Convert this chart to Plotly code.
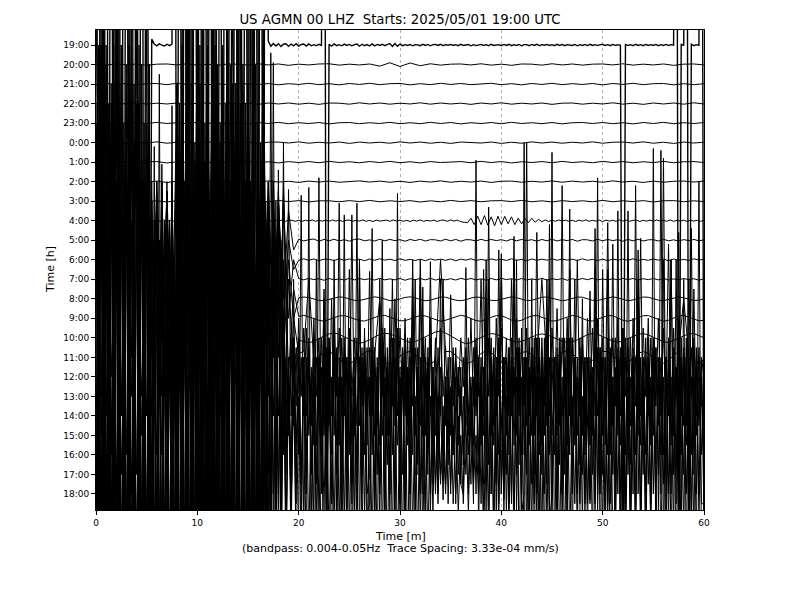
import numpy as np
import plotly.graph_objects as go

# ---------------- data (amplitudes in units of trace spacing, positive = up) ----------------
hour_labels = ["19:00", "20:00", "21:00", "22:00", "23:00", "0:00", "1:00", "2:00",
               "3:00", "4:00", "5:00", "6:00", "7:00", "8:00", "9:00", "10:00",
               "11:00", "12:00", "13:00", "14:00", "15:00", "16:00", "17:00", "18:00"]
x_ticks = [0, 10, 20, 30, 40, 50, 60]

h19 = [30, -35, 38, -32, 40, -30, 36, -38, 33, -31, 42, -36, 35, -30, 39, -34, 31, -37, 40, -33, 36, -30,
       0.3, 0.05, -0.04, 0.06, 0.0, -0.05, 0.04, -0.03, 0.05,
       34, -31, 38, -36, 30, -40, 35, -33, 41, -30, 37, -35, 32, -38, 36, -31, 39, -34, 30, -37, 42, -32,
       35, -36, 38, -30, 33, -39, 36, -31, 40, -35, 31, -33, 37, -30, 34,
       0.2, -0.06, 0.08, -0.05, 0.07, -0.08, 0.04, 0.06, -0.07, 0.05, -0.04, 0.07, -0.06, 0.03, 0.05, -0.05,
       0.06, -0.04, 0.02, -0.03, 0.04, -0.02,
       32, -30,
       0.04, -0.05, 0.06, -0.03, 0.02, -0.04, 0.05, -0.02, 0.03, -0.04,
       0.02, 0.05, -0.06, 0.04, -0.03, 0.02, -0.05, 0.06, -0.04, 0.03,
       -0.02, 0.04, -0.03, 0.02, 0.08, -0.07, 0.08, -0.06, 0.05, -0.03,
       0.02, -0.02, 0.03, -0.04, 0.02, 0.01, -0.03, 0.04, -0.02, 0.03,
       -0.04, 0.02, 0.03, -0.02, 0.04, -0.03, 0.02, -0.01, 0.03, -0.02,
       0.02, -0.03, 0.04, -0.02, 0.01, 0.03, -0.04, 0.02, -0.03, 0.02,
       0.03, -0.02, 0.02, -0.03, 0.04, -0.02, 0.01, 0.02, -0.03, 0.03,
       -0.02, 0.04, -0.03, 0.02, -0.02, 0.03, -0.04, 0.02, 0.02, -0.03,
       0.03, -0.02, 0.04, -0.03, 0.02, -0.01, 0.03, -0.02, 0.02, -0.03,
       0.04, -0.02, 0.03, -0.03, 0.02, 0.01, -0.02, 0.03, -0.04, 0.02,
       -0.02, 0.03, -0.03, 0.04, -0.02, 0.02, -0.03, 0.02, 0.03, -0.02,
       0.02, -0.03, 0.03, -0.02, 0.02, -0.01,
       -30,
       0.03, -0.02, 0.02, -0.03, 0.04, -0.02, 0.02, -0.03, 0.03, -0.02,
       0.02, -0.02, 0.03, -0.03, 0.02, -0.02, 0.03, -0.02, 0.02, -0.01,
       30, -30, 0.05, -0.03, 30, -30, 0.04, -0.03, 0.02, -0.02, 30, -30]

h20 = [0.02, -0.03, 0.04, -0.02, 0.03, -0.04, 0.02, 0.03, -0.02, 0.04,
       -0.03, 0.02, -0.04, 0.03, 0.02, -0.03, 0.04, -0.02, 0.03, -0.04,
       0.02, -0.02, 0.03, 0.04, -0.03, 0.02, -0.02, 0.03, -0.08, 0.09,
       -0.1, 0.08, -0.06, 0.04, -0.03, 0.02, 0.03, -0.02, 0.04, -0.03,
       0.02, -0.04, 0.03, 0.02, -0.03, 0.04, -0.02, 0.03, -0.03, 0.02,
       0.03, -0.02, 0.04, -0.03, 0.02, -0.02, 0.03, -0.04, 0.02, 0.03, -0.02]

h21 = [-0.03, 0.04, -0.02, 0.03, -0.04, 0.02, 0.03, -0.03, 0.04, -0.02,
       0.03, -0.04, 0.02, -0.03, 0.04, 0.02, -0.03, 0.03, -0.04, 0.02,
       -0.02, 0.04, -0.03, 0.02, -0.04, 0.03, -0.02, 0.04, -0.03, 0.02,
       0.03, -0.04, 0.02, -0.03, 0.04, -0.02, 0.03, -0.03, 0.02, 0.04,
       -0.03, 0.02, -0.04, 0.03, -0.02, 0.04, -0.03, 0.02, -0.02, 0.03,
       -0.04, 0.03, -0.02, 0.04, -0.03, 0.02, 0.03, -0.04, 0.02, -0.03, 0.02]

h22 = [0.02, -0.04, 0.03, -0.02, 0.04, -0.03, 0.02, -0.02, 0.03, -0.04,
       0.02, 0.03, -0.03, 0.04, -0.02, 0.02, -0.04, 0.03, -0.02, 0.03,
       -0.03, 0.02, -0.04, 0.03, 0.02, -0.03, 0.04, -0.02, 0.03, -0.03,
       0.02, -0.02, 0.04, -0.03, 0.03, -0.02, 0.02, -0.04, 0.03, -0.02,
       0.04, -0.03, 0.02, -0.02, 0.03, -0.04, 0.02, 0.03, -0.03, 0.02,
       -0.02, 0.04, -0.03, 0.02, -0.04, 0.03, -0.02, 0.03, -0.03, 0.04, -0.02]

h23 = [-0.02, 0.03, -0.04, 0.02, 0.03, -0.03, 0.04, -0.02, 0.02, -0.03,
       0.04, -0.02, 0.03, -0.03, 0.02, -0.04, 0.03, -0.02, 0.04, -0.03,
       0.02, -0.02, 0.03, -0.04, 0.02, 0.03, -0.03, 0.02, -0.02, 0.04,
       -0.03, 0.02, -0.03, 0.04, -0.02, 0.03, -0.04, 0.02, -0.02, 0.03,
       -0.03, 0.04, -0.02, 0.02, -0.03, 0.03, -0.04, 0.02, 0.03, -0.02,
       0.03, -0.03, 0.02, -0.04, 0.03, -0.02, 0.04, -0.03, 0.02, -0.02, 0.03]

h00 = [0.03, -0.02, 0.02, -0.04, 0.03, -0.02, 0.04, -0.03, 0.02, 0.03,
       -0.03, 0.04, -0.02, 0.02, -0.03, 0.03, -0.04, 0.02, 0.03, -0.02,
       0.04, -0.03, 0.02, -0.02, 0.03, -0.04, 0.03, -0.02, 0.02, -0.03,
       0.04, -0.02, 0.03, -0.03, 0.02, -0.04, 0.03, 0.02, -0.02, 0.03,
       -0.04, 0.02, -0.03, 0.04, -0.02, 0.03, -0.03, 0.02, -0.02, 0.04,
       -0.03, 0.02, 0.03, -0.02, 0.04, -0.03, 0.02, -0.04, 0.03, -0.02, 0.02]

h01 = [-0.03, 0.02, -0.02, 0.04, -0.03, 0.02, 0.03, -0.04, 0.02, -0.02,
       0.03, -0.03, 0.04, -0.02, 0.02, 0.03, -0.03, 0.02, -0.04, 0.03,
       -0.02, 0.03, -0.03, 0.04, -0.02, 0.02, -0.03, 0.03, -0.02, 0.04,
       -0.03, 0.02, -0.04, 0.03, -0.02, 0.02, 0.03, -0.03, 0.04, -0.02,
       0.03, -0.04, 0.02, -0.02, 0.03, -0.03, 0.04, -0.02, 0.02, -0.03,
       0.04, -0.02, 0.03, -0.03, 0.02, -0.02, 0.04, -0.03, 0.02, 0.03, -0.02]

h02 = [0.02, -0.03, 0.04, -0.02, 0.02, -0.03, 0.03, -0.04, 0.02, 0.03,
       -0.02, 0.04, -0.03, 0.02, -0.02, 0.03, -0.03, 0.04, -0.02, 0.02,
       -0.04, 0.03, -0.02, 0.03, -0.03, 0.02, 0.04, -0.02, 0.03, -0.03,
       0.02, -0.04, 0.03, -0.02, 0.04, -0.03, 0.02, -0.02, 0.03, -0.04,
       0.02, 0.03, -0.03, 0.02, -0.02, 0.04, -0.03, 0.03, -0.02, 0.02,
       -0.03, 0.04, -0.02, 0.02, -0.04, 0.03, -0.03, 0.02, 0.03, -0.02, 0.03]

h03 = [-0.02, 0.04, -0.03, 0.02, 0.03, -0.02, 0.02, -0.04, 0.03, -0.03,
       0.02, -0.02, 0.04, -0.03, 0.03, -0.02, 0.02, -0.03, 0.04, -0.02,
       0.03, -0.04, 0.02, 0.02, -0.03, 0.03, -0.02, 0.04, -0.03, 0.02,
       -0.02, 0.03, -0.04, 0.02, -0.03, 0.04, -0.02, 0.03, -0.03, 0.02,
       0.03, -0.02, 0.04, -0.03, 0.02, -0.04, 0.03, -0.02, 0.02, -0.03,
       0.04, -0.03, 0.02, -0.02, 0.03, -0.04, 0.02, 0.03, -0.03, 0.02, -0.02]

h04 = [0.03, -0.02, 0.04, -0.03, 0.02, -0.04, 0.03, 0.02, -0.03, 0.04,
       -0.02, 0.03, -0.04, 0.02, 0.03, -0.03, 0.04, -0.02, 0.02, -0.03,
       0.04, -0.03, 0.02, -0.02, 0.03, -0.04, 0.02, 0.03, -0.03, 0.02,
       -0.04, 0.03, -0.02, 0.04, -0.03, 0.02, -0.02, 0.03, -0.04, 0.02,
       0.03, -0.03, 0.04, -0.02, 0.02, -0.03, 0.03, -0.04, 0.02, 0.03,
       -0.02, 0.04, -0.03, 0.02, -0.02, 0.03, -0.04, 0.03, 0.02, -0.03,
       0.02, -0.04, 0.03, -0.02, 0.04, -0.03, 0.02, -0.02, 0.03, -0.03,
       0.04, -0.02, 0.03, -0.04, 0.02, 0.03, -0.03, 0.02, -0.02, 0.04,
       -0.03, 0.02, -0.04, 0.03, -0.02, 0.02, 0.03, -0.03, 0.04, -0.02,
       0.03, -0.03, 0.02, -0.04, 0.03, -0.02, 0.04, -0.03, 0.02, -0.02,
       0.03, -0.04, 0.02, 0.03, -0.03, 0.04, -0.02, 0.03, -0.05, -0.08,
       -0.1, 0.13, -0.2, 0.23, -0.2, 0.26, -0.23, 0.2, -0.26, 0.23,
       -0.2, 0.23, -0.16, 0.2, -0.2, 0.13, -0.16, 0.13, -0.1, 0.13,
       -0.08, 0.07, -0.05, 0.04, -0.04, 0.03, -0.03, 0.04, -0.02, 0.03,
       -0.03, 0.02, -0.04, 0.03, -0.02, 0.04, -0.03, 0.02, -0.02, 0.03,
       -0.04, 0.03, -0.02, 0.02, -0.03, 0.04, -0.02, 0.03, -0.03, 0.02,
       0.03, -0.04, 0.02, -0.02, 0.03, -0.03, 0.04, -0.02, 0.02, -0.03,
       0.04, -0.03, 0.02, -0.02, 0.03, -0.04, 0.03, -0.02, 0.02, -0.03, 0.02]

h05 = [12, -8, 7, -7, 3, -9, 9, -6, 5, -8,
       1, -6, 3, -5, 2.5, -6, 8, -7, 4, -9,
       10, -9, 6, -6, 2, -7, 11, -8, 5, -9,
       7, -8, 3, -5, 3, -4, 2, -3, 1.5, -0.5,
       0.05, -0.04, 0.03, 0.06, -0.05, 0.04, -0.03, 0.05, -0.04, 0.03,
       -0.05, 0.04, 0.06, -0.03, 0.02, -0.04, 0.05, -0.03, 0.04, -0.02,
       0.03, -0.05, 0.04, -0.02, 0.05, -0.04, 0.03, 0.02, -0.04, 0.05,
       -0.03, 0.04, -0.05, 0.03, 0.02, -0.04, 0.05, -0.03, 0.04, -0.02,
       0.03, -0.04, 0.05, -0.03, 0.04, -0.02, 0.03, -0.05, 0.04, -0.03,
       0.05, -0.04, 0.03, -0.02, 0.04, -0.05, 0.03, 0.02, -0.04, 0.05,
       -0.03, 0.04, -0.02, 0.03, -0.05, 0.04, -0.03, 0.05, -0.04, 0.02,
       0.03, -0.04, 0.05, -0.03, 0.02, -0.04, 0.03, -0.02, 0.04, -0.03, 0.02]

h06 = [7, -9, 3, -10, 12, -8, 6, -7, 8, -9,
       4, -8, 3, -7, 3.5, -9, 9, -10, 13, -8,
       8, -6, 4, -9, 10, -8, 6, -10, 2, -7,
       9, -8, 5, -6, 4, -5, 3, -3, 1, -0.5,
       -0.04, 0.05, -0.03, 0.04, -0.05, 0.03, 0.02, -0.04, 0.05, -0.03,
       0.04, -0.02, 0.03, -0.05, 0.04, -0.03, 0.05, -0.02, 0.03, -0.04,
       0.05, -0.03, 0.02, -0.04, 0.03, -0.05, 0.04, -0.02, 0.03, -0.03,
       0.04, -0.05, 0.03, -0.02, 0.05, -0.04, 0.02, -0.03, 0.04, -0.02,
       0.03, -0.04, 0.05, -0.03, 0.02, -0.05, 0.04, -0.03, 0.03, -0.02,
       0.05, -0.03, 0.04, -0.02, 0.03, -0.04, 0.05, -0.03, 0.02, -0.04,
       0.03, -0.05, 0.04, -0.02, 0.03, -0.03, 0.05, -0.04, 0.02, -0.03,
       0.04, -0.02, 0.03, -0.05, 0.04, -0.03, 0.02, -0.04, 0.05, -0.02, 0.03]

h07 = [-8, 12, -7, 8, -11, 4, -9, 13, -10, 7,
       -7, 4, -9, 5, -8, 4.5, -10, 9, -8, 5,
       -9, 10, -10, 14, -9, 9, -8, 5, -7, 11,
       -9, 7, -10, 3, -6, 5, -4, 4, -2, 1,
       0.04, -0.03, 0.05, -0.02, 0.03, -0.05, 0.04, -0.03, 0.02, -0.04,
       0.05, -0.03, 0.04, -0.02, 0.03, -0.04, 0.05, -0.03, 0.02, -0.03,
       0.04, -0.05, 0.03, -0.02, 0.04, -0.03, 0.05, -0.04, 0.02, -0.03,
       0.03, -0.04, 0.05, -0.02, 0.04, -0.03, 0.02, -0.05, 0.04, -0.03,
       0.05, -0.02, 0.03, -0.04, 0.04, -0.03, 0.02, -0.03, 0.05, -0.04,
       0.03, -0.02, 0.04, -0.05, 0.03, -0.03, 0.04, -0.02, 0.05, -0.03,
       0.02, -0.04, 0.03, -0.03, 0.05, -0.02, 0.04, -0.04, 0.03, -0.02,
       0.04, -0.03, 0.05, -0.04, 0.02, -0.03, 0.04, -0.02, 0.03, -0.05, 0.03]

h08 = [7, -11, 13, -8, 9, -9, 5, -10, 14, -12,
       8, -9, 5.5, -8, 6, -10, 10, -11, 6, -9,
       11, -10, 15, -12, 10, -11, 6, -8, 12, -9,
       8, -11, 4, -8, 5, -6, 5.5, -3, 2, -1,
       0.05, 0.09, 0.06, -0.02, -0.08, -0.1, -0.04, 0.04, 0.1, 0.07,
       -0.01, -0.08, -0.09, -0.03, 0.05, 0.1, 0.06, -0.03, -0.09, -0.08,
       0.0, 0.07, 0.1, 0.05, -0.04, -0.1, -0.07, 0.02, 0.09, 0.08,
       0.0, -0.07, -0.1, -0.05, 0.04, 0.09, 0.07, -0.02, -0.08, -0.09,
       -0.02, 0.06, 0.1, 0.06, -0.03, -0.09, -0.08, 0.01, 0.08, 0.09,
       0.02, -0.06, -0.1, -0.06, 0.03, 0.09, 0.08, 0.0, -0.08, -0.09,
       -0.02, 0.06, 0.1, 0.05, -0.04, -0.1, -0.06, 0.03, 0.09, 0.08,
       0.0, -0.07, -0.1, -0.04, 0.05, 0.1, 0.05, -0.03, -0.09, -0.07, 0.0]

h09 = [-10, 12, -9, 8, -13, 14, -11, 10, -12, 6,
       -11, 7, -10, 6.5, -9, 7, -12, 15, -10, 9,
       -12, 11, -13, 7, -9, 12, -10, 16, -11, 11,
       -12, 7, -11, 13, -8, 6, -5, 6.5, -3, 1.5,
       0.1, 0.15, 0.08, -0.02, -0.1, -0.15, -0.08, 0.03, 0.12, 0.14,
       0.06, -0.05, -0.12, -0.14, -0.06, 0.04, 0.13, 0.15, 0.05, -0.06,
       -0.13, -0.12, -0.03, 0.08, 0.15, 0.12, 0.02, -0.08, -0.15, -0.1,
       0.0, 0.1, 0.16, 0.1, -0.02, -0.12, -0.15, -0.07, 0.05, 0.14,
       0.13, 0.03, -0.09, -0.15, -0.1, 0.02, 0.12, 0.15, 0.06, -0.06,
       -0.14, -0.12, -0.02, 0.09, 0.15, 0.1, -0.01, -0.11, -0.14, -0.06,
       0.05, 0.14, 0.13, 0.02, -0.1, -0.15, -0.08, 0.04, 0.13, 0.14,
       0.04, -0.08, -0.15, -0.1, 0.01, 0.12, 0.15, 0.06, -0.06, -0.13, -0.1]

h10 = [10, -13, 6, -10, 13, -12, 9, -11, 15, -14,
       11, -10, 8, -12, 7.5, -11, 7, -12, 16, -10,
       10, -11, 12, -13, 8, -12, 13, -10, 17, -14,
       12, -13, 8, -11, 7, -8, 7.5, -5, 3, -1.5,
       -0.1, -0.2, -0.25, -0.18, -0.05, 0.1, 0.2, 0.25, 0.18, 0.05,
       -0.08, -0.2, -0.28, -0.22, -0.1, 0.05, 0.18, 0.24, 0.2, 0.1,
       -0.02, -0.15, -0.25, -0.2, -0.08, 0.06, 0.15, 0.3, 0.35, 0.25,
       0.1, -0.05, -0.2, -0.3, -0.25, -0.12, 0.02, 0.15, 0.22, 0.18,
       0.08, -0.05, -0.15, -0.22, -0.18, -0.08, 0.05, 0.15, 0.2, 0.16,
       0.05, -0.08, -0.18, -0.24, -0.2, -0.1, 0.04, 0.16, 0.22, 0.18,
       0.06, -0.07, -0.17, -0.22, -0.16, -0.04, 0.08, 0.18, 0.22, 0.15,
       0.03, -0.1, -0.2, -0.24, -0.15, -0.02, 0.1, 0.2, 0.22, 0.12, 0.0]

h11 = [-12, 15, -11, 11, -15, 7, -13, 14, -14, 10,
       -13, 8, -12, 9, -11, 8.5, -14, 16, -12, 12,
       -14, 8, -15, 17, -11, 11, -12, 13, -13, 9,
       -14, 14, -13, 18, -10, 8, -7, 9, -4, 2,
       0.2, 0.3, 4.0, -0.3, 0.1, 0.25, 0.3, 0.15, -0.1, -0.25,
       -0.3, -0.2, 0.05, 0.25, 0.35, 0.2, 3.0, -0.25, -0.35, -0.2,
       0.05, 0.25, 0.3, 0.15, -0.1, -0.3, -0.35, -0.15, 5.0, 0.3,
       0.3, 0.1, -0.15, -0.3, -0.25, -0.05, 0.2, 0.35, 0.25, 0.0,
       -0.25, -0.35, -0.2, 0.05, 0.25, 0.3, 0.15, -0.1, 4.0, -0.3,
       -0.2, 0.05, 0.25, 0.35, 0.2, -0.05, -0.25, -0.3, -0.15, 0.1,
       0.3, 0.3, 0.1, -0.15, -0.3, -0.25, -0.05, 0.2, 0.3, 0.2,
       -0.05, -0.25, -0.3, -0.15, 0.1, 0.3, 3.0, 0.1, -0.2, -0.3, -0.1]

h12 = [14, -9, 10, -11, 16, -14, 12, -8, 8, -12, 15, -13,
       11, -10, 17, -15, 13, -11, 9, -9, 18, -12, 7, -9,
       6, -10, 7, -8, 5, -11, 8, -9, 12, -12, 14, -10,
       10, -13, 15, -12, 19, -9, 14, -13, 10, -12, 16, -10,
       12, -11, 8, -14, 15, -9, 11, -12, 17, -13, 13, -10,
       9, -11, 18, -10, 12, -9, 14, -8, 9, -7, 8, -6,
       8, -5, 6, -4, 9.6, -2, 2, -1.5, 3, -1, 2.5, -2,
       1.5, -2.5, 3, -1, 2, -3, 4.5, -1.5, 2, -2, 3, -1,
       2.5, -2, 1.5, -3, 5.5, -1, 2, -2.5, 3, -1.5, 2, -2,
       5.4, -2, 1.5, -2.5, 3, -1, 2.5, -3, 2, -1.5, 4, -2,
       2.5, -1, 3, -2.5, 2, -1.5, 1.5, -2, 6, -1, 2, -2.5,
       3, -1.5, 2, -2, 2.5, -1, 1.5, -2, 4.2, -1.5, 1, -1,
       2, -0.5, 1.5, -2, 3, -1.5, 2, -1, 5, -2, 3, -1,
       2, -2.5, 3, -1, 2.5, -1.5, 2, -2, 5, -1, 3, -2,
       2, -1.5, 2.5, -2, 1.5, -3, 7.4, -3, 2, -1.5, 3, -2,
       2.5, -1, 3.5, -2.5, 2, -1.5, 3, -2, 2, -1, 6, -2,
       2, -2.5, 3, -1, 2.5, -2, 3, -1.5, 2, -2, 7.9, -2.5,
       2, -1.5, 3, -2, 2.5, -1, 2, -2.5, 3, -1.5, 5, -2,
       2.5, -1, 3, -2.5, 2, -1.5, 3, -2, 2.5, -1, 6.8, -2,
       2.5, -1, 3, -2, 1.5, -2.5, 5, -1, 2, -2, 1.5, -1.5,
       -1]

h13 = [-10, 10, -12, 16, -9, 12, -15, 18, -10, 14, -13, 10,
       -11, 19, -12, 13, -15, 15, -9, 11, -11, 17, -8, 12.8,
       -10, 8, -9, 7, -11, 9, -8, 6, -12, 13, -11, 9,
       -13, 16, -14, 12, -9, 18, -12, 14, -10, 10, -15, 19,
       -11, 13, -13, 15, -12, 11, -9, 16, -14, 20, -12, 15,
       -10, 11, -12, 17, -9, 13, -10, 9, -8, 17.6, -8, 10,
       -6, 8, -3, 2, -2, 3, -1.5, 2.5, -3, 2, -1, 3.5,
       -2, 1.5, -2.5, 2, -1, 3, -2, 2.5, -1.5, 5, -2, 2,
       -2.5, 3, -1, 2, -3, 9.3, -2, 3, -1.5, 2, -3, 2.5,
       -1, 3, -2, 1.5, -2.5, 3.5, -1, 2, -2, 6, -1.5, 2,
       -2, 2.5, -1, 3, -2, 7.0, -2, 2.5, -1.5, 3, -2, 2,
       -1, 1.5, -2, 2.5, -1, 6, -1.5, 2, -2, 2.5, -1, 1.5,
       -1, 2, -1.5, 3, -2, 2.5, -1, 2, -2.5, 6.5, -1.5, 3,
       -2, 2.5, -1, 3, -1.5, 2, -2, 2.5, -1, 8.2, -2, 2.5,
       -3, 2, -1.5, 3, -2, 2.5, -1, 3, -2.5, 2, -1.5, 6,
       -2, 1.5, -2, 2.5, -1, 3, -2.5, 6.5, -1.5, 2, -2, 3,
       -2, 2, -1.5, 5.4, -2, 3, -1, 2.5, -2, 2, -3, 2.5,
       -1.5, 3, -2, 2.5, -1, 2, -2.5, 3, -1.5, 2, -2, 8.1,
       -2.5, 2, -1, 3, -2, 2.5, -1.5, 2, -3, 2, -1, 7,
       -2, 1.5, -2.5, 3, -1.5, 2, -2, 2.5, -1, 2, -1.5, 2,
       1]

h14 = [15, -11, 20, -14, 13, -10, 17, -13, 11, -16, 19, -12,
       14, -13, 16, -14, 10, -10, 18, -15, 12, -11, 9, -12,
       10, -9, 11, -12, 9, -10, 8, -11, 17, -13, 13, -14,
       21, -12, 15, -15, 11, -14, 18, -10, 14, -16, 16, -12,
       12, -11, 19, -9, 13, -14, 17, -13, 10, -12, 15, -15,
       20, -10, 14, -11, 11, -9, 16, -12, 10, -8, 9, -5,
       12.6, -6, 4, -2, 3, -2.5, 4, -1.5, 3.5, -3, 2, -2,
       3, -2.5, 4, -1.5, 3, -2, 6, -3, 2.5, -2, 3.5, -1.5,
       10.9, -3, 3, -2, 4.5, -1.5, 3, -2.5, 2, -3, 4, -1.5,
       3.5, -2, 2.5, -3, 4, -1, 3, -2.5, 5.5, -2, 3, -1.5,
       2.5, -3, 4, -1.5, 3, -2, 7, -2.5, 2, -1, 3, -2,
       7.9, -2.5, 3, -2, 2.5, -1, 2, -1.5, 3, -2, 3.5, -1.5,
       2.5, -2, 3, -1, 2, -1.5, 3.5, -2, 2.5, -1, 8, -2.5,
       3, -1.5, 2.5, -2, 8.3, -3, 3, -2, 4, -1.5, 3.5, -2.5,
       4.5, -2, 3, -1.5, 2.5, -3, 4, -2, 3, -1, 7, -2,
       3, -2, 3.5, -2.5, 11.8, -3, 3.5, -2, 4, -1.5, 3, -2.5,
       4, -2, 3, -1.5, 2.5, -2, 3.5, -3, 7.5, -1.5, 3, -2,
       8.8, -3, 3, -1.5, 4.5, -2, 3.5, -2.5, 3, -2, 6, -1.5,
       3, -2, 4, -1.5, 3.5, -2.5, 3, -2, 13.2, -3, 4, -1.5,
       3.5, -2.5, 4, -2, 3, -1.5, 2.5, -2, 6.5, -1, 3, -2,
       2]

h15 = [-14, 20, -12, 14, -16, 17, -11, 11, -15, 21, -12, 16,
       -13, 13, -11, 18, -16, 15, -14, 12, -12, 19, -10, 10,
       -11, 18.5, -12, 11, -9, 10, -12, 9, -10, 17, -13, 13,
       -11, 22, -16, 15, -14, 18, -12, 14, -13, 11, -12, 20,
       -14, 16, -11, 12, -16, 19, -10, 15, -8, 17, -14, 13,
       -12, 21, -11, 16, -10, 14, -8, 12, -9, -7, 19.1, -7,
       11, -5, 6, -2, 4, -3, 8, -2, 3.5, -2.5, 4, -3,
       5, -2, 3, -2.5, 13.2, -3, 4, -2.5, 5, -3, 4.5, -2,
       3, -3.5, 5, -2, 4, -2.5, 3, -3, 9, -2, 4, -3,
       -2, 10.6, -3, 4, -2.5, 5, -3, 3.5, -2, 4, -3, 5.5,
       -2, 4, -2.5, 3, -3, 6.5, -2, -2, 8.1, -3, 4, -2,
       5, -2.5, 3, -3, 8, -2, 3, -1.5, 2.5, -1, 3, -2,
       2.5, -1.5, 3, -1, 2.5, -2, 3.5, -2, 4, -2.5, -2, 11.7,
       -3, 4, -2.5, 9.5, -3, 4, -2, 4.5, -3, 3.5, -2, 5,
       -3, 4, -2, 3.5, -2.5, 5, -3, 4, -2, 3, -2.5, 10.8,
       -3, 4, -2.5, 5, -2, 3.5, -3, 4, -2, 8, -3, 4.5,
       -2, 3, -3.5, 4, -2, 10.6, -3, 4.5, -2, 3, -3.5, 4,
       -2, 3.5, -3, 4, -2.5, 5, -2, 3, -3, 12.8, -3, 4,
       -2, 5, -2.5, 3, -3, 4.5, -2, 3, -2.5, 4, -3, 9,
       -2, 3.5, -3, 4, -2, 5, -2.5, 10.6, -2, 3.5, -3, 4,
       -2]

h16 = [-13, 14, -15, 20, -14, 16, -11, 22, -16, 18, -12, 13,
       -14, 19, -16, 15, -13, 21, -15, 17, -12, 12, -13, 11,
       -12, -10, 14.9, -13, 12, -14, 11, -12, 16, -15, 19, -12,
       14, -14, 23, -13, 17, -16, 13, -11, 20, -14, 15, -15,
       18, -12, 12, -15, 21, -11, 16, -14, 19, -13, 14, -16,
       17, -12, 22, -11, 15, -13, 18, -10, 12, -6, 10, -4,
       -5, -3, 16, -5, 4, -3, 5, -2.5, 6, -3, 4.5, -2,
       5.5, -3, 4, -3.5, 5, -2, 6.5, -3, 4, -2.5, 10, -3,
       5, -3, 12.3, -3, 6, -2.5, 4, -3.5, 5, -2, 6.5, -3,
       -2.5, 5, -3, 4, -2, 11, -3, 5.5, -2, 4.5, -3, 6,
       -2.5, 5, -3, 4, -2, 5.5, -3, 4.5, -2, 8.6, -3, 5.5,
       -2, 4.5, -1.5, 3, -1, 2.5, -1.5, 4, -2, 5, -2.5, 4.5,
       -1.5, 3, -1, 2.5, -1.5, 4, -2, 5, -2.5, 4.5, -3, 9,
       -2, 5, -3, 6, -2, 5, -3, 4.5, -2.5, 10, -3, 5.5,
       -3, -2, 16, -4, 5.5, -2.5, 6, -3, 4.5, -2, 5, -3.5,
       -2, 5, -3, 4.5, -2, 5, -3.5, 6, -2, 4, -3, -3,
       8, -3, 5, -2.5, 4, -3, 5.5, -2, 4, -3, 9.5, -2.5,
       4, -3, 5.5, -2, 4.5, -2.5, 12.5, -3, 5, -2.5, 6, -3,
       4.5, -2, 5, -2.5, 4, -3, 5, -2, 10, -3, 4.5, -2,
       5, -2.5, 11.4, -3, 5, -2, 4, -3, 5.5, -2, 4, -2.5,
       -2.5]

h17 = [17, -14, 22, -18, 14, -16, 19, -12, 23, -15, 16, -13,
       20, -17, 13, -14, 18, -11, 21, -15, 15, -13, 12, -14,
       13, -11, 14, -15, 12, -13, 14, -12, 19, -16, 14, -13,
       22, -15, 17, -17, 20, -14, 24, -18, 16, -14, 18, -12,
       21, -15, 15, -13, 19, -16, 13, -14, 22, -15, 17, -12,
       20, -13, 16, -14, 23, -10, 18, -8, 13, -6, 12, -7,
       14, -5, 6, -3, 5, -2, 4, -3, -2, 14.3, -3, 6,
       -4, 5, -2.5, 11, -3, 5.5, -2, 6, -4, 5, -3, 6.5,
       -3, 5, -2.5, 6, -3, 4.5, -2.5, 13.9, -3.5, 6.5, -2, 5,
       -4, 6, -3, 5, -2.5, 6, -3, 5.5, -2, 7, -3, 14.4,
       -4, 6, -3, 5.5, -2, 10, -3, 5, -2.5, 4, -3, 5,
       -2, 4, -1, 3, -0.5, 2, -1, 3, -0.5, 2.5, -1, 3,
       -0.5, -1, 10.6, -1, 3, -0.5, 2, -1, 4, -2, 9, -3,
       6, -2.5, 5, -3, 11, -2, 5.5, -3, 6, -2.5, 5, -3,
       -3, 17, -4, 5.5, -3, 6, -2.5, 5, -3.5, 7, -3, 6,
       -2.5, 5, -3, 6, -2.5, 5.5, -3, 13.6, -4, 6, -3, 5.5,
       -2.5, 6, -3, 5, -4, 10.5, -2, 5, -3, 6, -2.5, 5.5,
       -3, -2, 13.5, -3.5, 6, -2.5, 5, -3, 6.5, -2, 5.5, -3,
       6, -2.5, 5, -3, 6.5, -2, -2, 16.6, -4, 6, -2.5, 5,
       -3, 11, -2.5, 5.5, -3, 6, -2, 5, -3, 6.5, -2.5, 5,
       -2]

h18 = [-15, 19, -14, 24, -17, 16, -16, 21, -13, 18, -14, 14,
       -16, 23, -17, 17, -13, 20, -18, 15, -15, 22, -13, 14,
       -15, 13, -12, 14, -14, -12, 19.9, -13, 19, -14, 16, -17,
       25, -16, 18, -13, 21, -14, 14, -15, 23, -13, 17, -16,
       20, -12, 15, -17, 22, -14, 18, -15, 24, -13, 16, -14,
       21, -13, 17, -12, 19, -11, 23, -10, 12, -9, 15, -8,
       13, -6, 7, -4, 6, -3, 8, -4, 5, -3, 7, -4,
       15.7, -4, 7, -3, 6, -5, 8, -3, 7, -4, 9, -3,
       6, -4.5, 7, -3, 8, -4, 6, -3.5, 12, -3, 7, -4,
       6, -3, 7.5, -4, 11, -3, 6, -4.5, 7, -3, 8, -4,
       6, -3, 7.5, -4, 6, -2, 5, -3, 7, -2.5, 6, -3,
       5, -1, 6, -0.5, 5, -0.3, 6, -0.5, 5, -0.5, 4, -1,
       3, -0.5, 4, -1, 5, -0.5, 17.1, -2, 6, -3, 5, -2,
       6, -3, 7, -0.5, 4, -0.3, 5, -0.5, 7, -3, 12, -4,
       6, -3, 7, -4, 11, -3, 6, -4, 7, -3, 8, -2,
       17.5, -4, 7, -3, 6, -3.5, 8, -3, 5, -0.5, 6, -0.5,
       5, -0.5, 4, -0.3, 6, -0.5, 16.2, -4, 7, -3, 8, -4,
       6, -3.5, 7, -3, 8, -4, 6, -3, 7, -4, 12.5, -3,
       6, -3.5, 7, -2, 17.7, -4, 7, -3, 6, -3.5, 8, -3,
       7, -4, 6, -3, 11, -3.5, 7, -2, 6, -3, 16, -3,
       -3]

hour_traces = [h19, h20, h21, h22, h23, h00, h01, h02, h03, h04, h05, h06,
               h07, h08, h09, h10, h11, h12, h13, h14, h15, h16, h17, h18]

# ---------------- figure ----------------
n_rows = len(hour_traces)
fig = go.Figure()
for k, vals in enumerate(hour_traces):
    v = np.asarray(vals, dtype=float)
    t = np.linspace(0, 60, len(v))          # sample times (minutes) of this hour
    base = (n_rows - 1) - k                  # 19:00 on top
    fig.add_trace(go.Scatter(x=t, y=base + v, mode="lines",
                             line=dict(color="black", width=1.4 if k == 0 else 1),
                             hoverinfo="skip", showlegend=False))

font_family = "DejaVu Sans"
# the page body adds an 8 px margin, so the figure is 792x592 with shifted margins
fig.update_layout(
    width=792, height=592,
    margin=dict(l=88, r=96, t=22, b=90),
    paper_bgcolor="white", plot_bgcolor="white",
    font=dict(family=font_family, color="black"),
    hovermode=False,
    title=dict(text="US AGMN 00 LHZ \u00a0Starts: 2025/05/01 19:00 UTC",
               x=(400 - 8) / 792, xanchor="center", xref="container",
               y=1 - 11 / 592, yref="container", yanchor="middle",
               font=dict(family=font_family, size=13.3, color="black")),
)
fig.update_xaxes(range=[0, 60], tickvals=x_ticks, ticktext=[str(v) for v in x_ticks],
                 ticks="outside", ticklen=4, tickwidth=1, tickcolor="black",
                 showline=True, linecolor="black", linewidth=1, mirror=True,
                 showgrid=True, gridcolor="#b0b0b0", gridwidth=0.8, griddash="dot",
                 zeroline=False, tickfont=dict(size=9, family=font_family, color="black"))
fig.update_yaxes(range=[-0.82, 23.77],
                 tickvals=[(n_rows - 1) - k for k in range(n_rows)], ticktext=hour_labels,
                 ticks="outside", ticklen=4, tickwidth=1, tickcolor="black",
                 showline=True, linecolor="black", linewidth=1, mirror=True,
                 showgrid=False, zeroline=False,
                 tickfont=dict(size=9, family=font_family, color="black"))

fig.add_annotation(text="Time [m]", x=0.5, y=(510 - 536) / 480, xref="paper", yref="paper",
                   showarrow=False, xanchor="center", yanchor="middle",
                   font=dict(size=11, family=font_family, color="black"))
fig.add_annotation(text="(bandpass: 0.004-0.05Hz \u00a0Trace Spacing: 3.33e-04 mm/s)",
                   x=0.5, y=(510 - 548) / 480, xref="paper", yref="paper",
                   showarrow=False, xanchor="center", yanchor="middle",
                   font=dict(size=11, family=font_family, color="black"))
fig.add_annotation(text="Time [h]", x=(50 - 96) / 608, y=0.5, xref="paper", yref="paper",
                   showarrow=False, textangle=-90, xanchor="center", yanchor="middle",
                   font=dict(size=11, family=font_family, color="black"))

fig.write_html("out.html")
